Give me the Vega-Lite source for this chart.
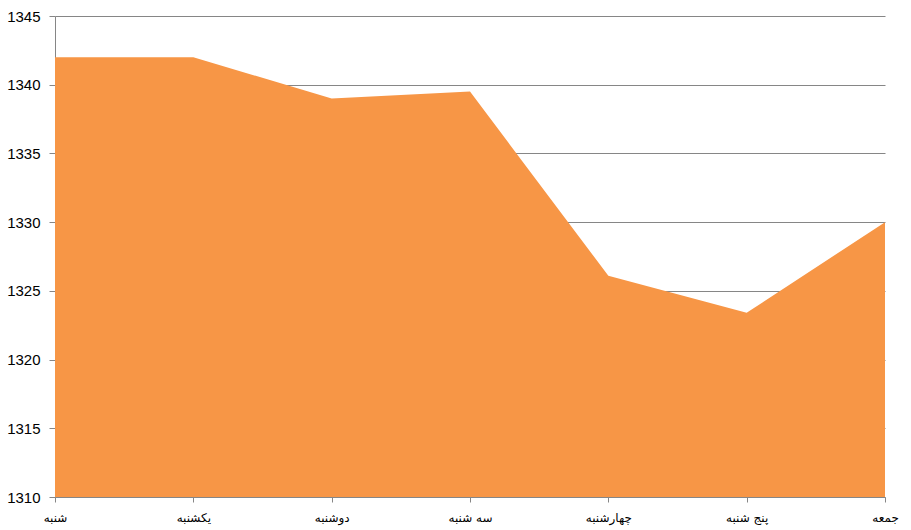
{
  "$schema": "https://vega.github.io/schema/vega-lite/v6.json",
  "width": 830,
  "height": 481,
  "autosize": {"type": "none"},
  "padding": {"left": 55, "top": 16, "right": 26, "bottom": 33},
  "background": "white",
  "config": {"view": {"stroke": null}},
  "data": {"values": [
    {"day": "شنبه", "order": 1, "value": 1342},
    {"day": "یکشنبه", "order": 2, "value": 1342},
    {"day": "دوشنبه", "order": 3, "value": 1339},
    {"day": "سه شنبه", "order": 4, "value": 1339.5},
    {"day": "چهارشنبه", "order": 5, "value": 1326.1},
    {"day": "پنج شنبه", "order": 6, "value": 1323.4},
    {"day": "جمعه", "order": 7, "value": 1330}
  ]},
  "mark": {"type": "area", "color": "#F79646", "opacity": 1, "clip": true},
  "encoding": {
    "x": {
      "field": "day", "type": "ordinal",
      "sort": {"field": "order"},
      "scale": {"type": "point", "padding": 0},
      "axis": {
        "title": null, "labelAngle": 0, "domainColor": "#868686", "tickColor": "#868686",
        "tickSize": 5, "labelPadding": 10, "labelFont": "DejaVu Sans", "labelFontSize": 12,
        "labelColor": "#000000", "grid": false, "zindex": 1
      }
    },
    "y": {
      "field": "value", "type": "quantitative",
      "scale": {"domain": [1310, 1345], "nice": false, "zero": false},
      "axis": {
        "title": null, "values": [1310, 1315, 1320, 1325, 1330, 1335, 1340, 1345], "format": "d",
        "grid": true, "gridColor": "#868686", "gridWidth": 1,
        "domainColor": "#868686", "tickColor": "#868686", "tickSize": 6,
        "labelFont": "Liberation Sans", "labelFontSize": 15, "labelColor": "#000000",
        "labelPadding": 9
      }
    },
    "y2": {"datum": 1310}
  }
}
